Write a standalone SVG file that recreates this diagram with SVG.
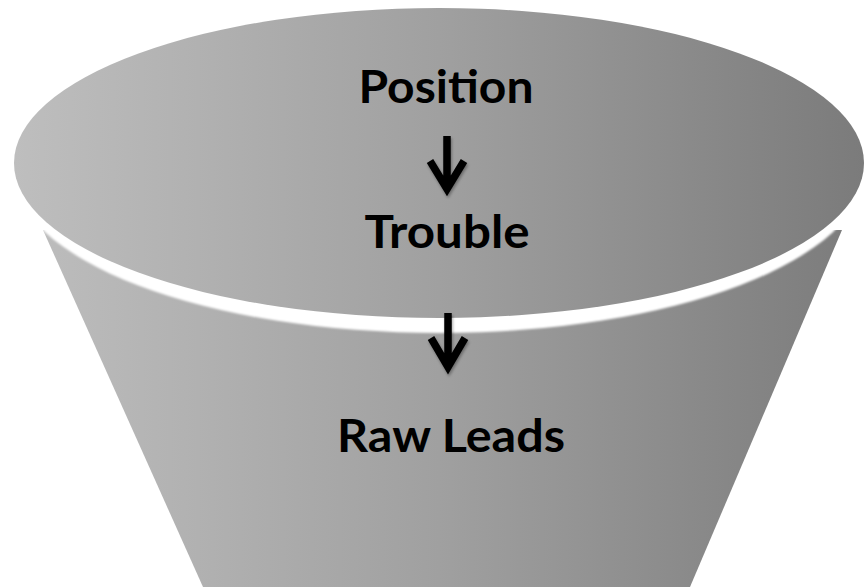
<svg xmlns="http://www.w3.org/2000/svg" width="864" height="587" viewBox="0 0 864 587">
  <style>
    .lbl { font-family: Lato, "Liberation Sans", Arial, sans-serif; font-weight: bold; font-size: 45px; fill: #000; text-anchor: middle; }
    .arrow { fill: none; stroke: #000; stroke-width: 7.5; stroke-linecap: butt; stroke-linejoin: miter; }
  </style>
  <defs>
    <linearGradient id="gray" gradientUnits="userSpaceOnUse" x1="14" y1="0" x2="864" y2="0">
      <stop offset="0" stop-color="#bebebe"/>
      <stop offset="0.5" stop-color="#a0a0a0"/>
      <stop offset="1" stop-color="#7b7b7b"/>
    </linearGradient>
    <filter id="soft" x="-5%" y="-5%" width="110%" height="110%">
      <feGaussianBlur stdDeviation="1.3"/>
    </filter>
    <filter id="shadow" x="-50%" y="-20%" width="200%" height="150%">
      <feGaussianBlur in="SourceAlpha" stdDeviation="1.5"/>
      <feOffset dx="1" dy="2" result="b"/>
      <feComponentTransfer><feFuncA type="linear" slope="0.35"/></feComponentTransfer>
      <feMerge><feMergeNode/><feMergeNode in="SourceGraphic"/></feMerge>
    </filter>
  </defs>
  <rect width="864" height="587" fill="#ffffff"/>

  <g id="funnel">
    <polygon id="cone" points="43,230 842,230 690,587 203,587" fill="url(#gray)"/>
    <ellipse id="rim" cx="439" cy="170" rx="426" ry="163" fill="#ffffff" filter="url(#soft)"/>
    <ellipse id="top" cx="439" cy="163" rx="425" ry="155" fill="url(#gray)"/>
  </g>

  <g id="node-position">
    <text class="lbl" x="446" y="103" textLength="175" lengthAdjust="spacingAndGlyphs">Position</text>
  </g>
  <g id="node-trouble">
    <text class="lbl" x="447" y="248" textLength="165" lengthAdjust="spacingAndGlyphs">Trouble</text>
  </g>
  <g id="node-rawleads">
    <text class="lbl" x="451" y="452" textLength="228" lengthAdjust="spacingAndGlyphs">Raw Leads</text>
  </g>

  <g id="connectors" filter="url(#shadow)">
    <path class="arrow" d="M447,136 V188 M430,161 L447,189 L464,161"/>
    <path class="arrow" d="M448,313 V366 M431,338 L448,367 L465,338"/>
  </g>
</svg>
